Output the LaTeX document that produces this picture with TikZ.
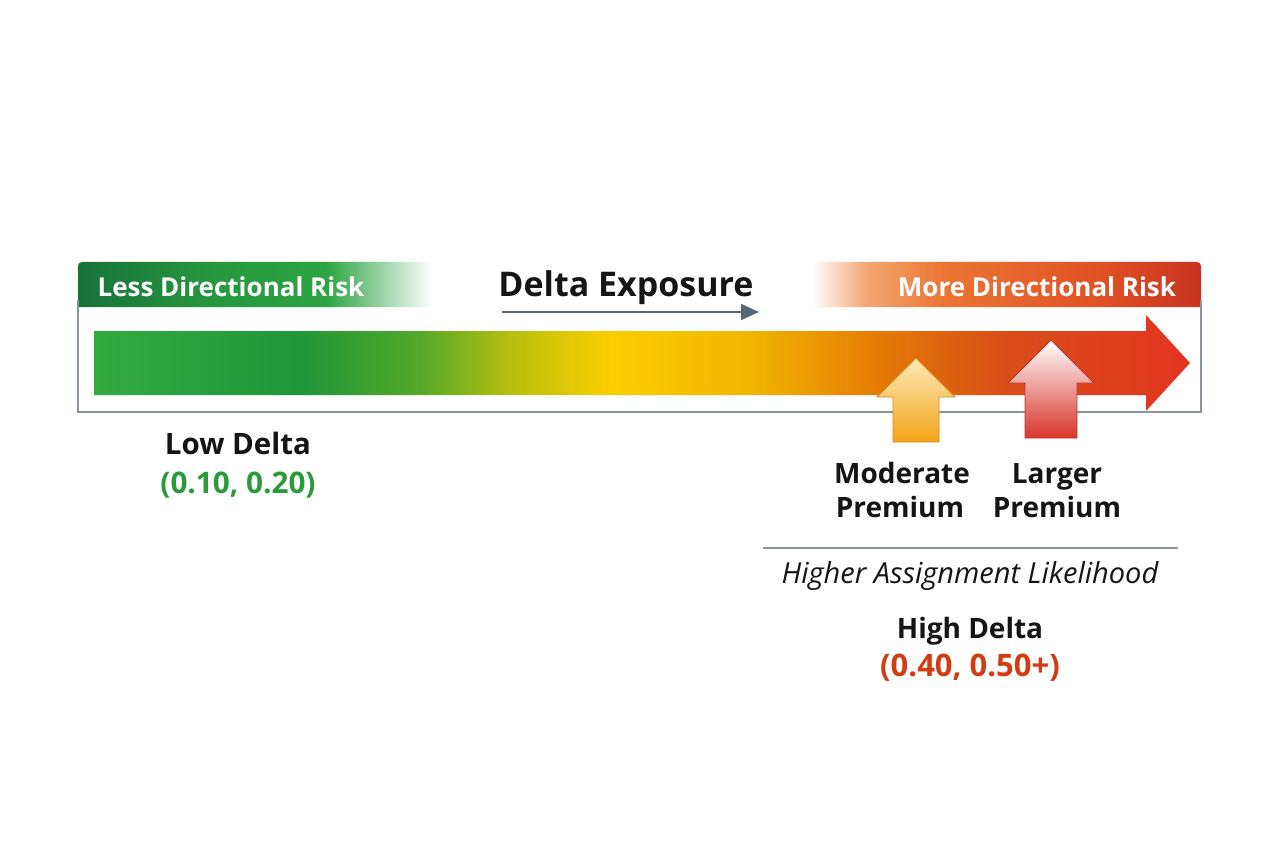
\documentclass[tikz,border=0pt]{standalone}
\usepackage{fontspec}
\setmainfont{Open Sans}
\usetikzlibrary{arrows.meta}
\definecolor{txt}{HTML}{151515}
\definecolor{framegray}{HTML}{8C939B}
\definecolor{arrowgray}{HTML}{5A6672}
\definecolor{lowgreen}{HTML}{2A9A3A}
\definecolor{highred}{HTML}{D23C12}
\definecolor{modtop}{HTML}{FCEAB8}
\definecolor{modbot}{HTML}{F3A418}
\definecolor{modedge}{HTML}{D9891A}
\definecolor{lartop}{HTML}{FFFFFF}
\definecolor{larbot}{HTML}{D8352A}
\definecolor{laredge}{HTML}{B8382E}
\pgfdeclarehorizontalshading{barshade}{100bp}{%
  rgb(0bp)=(0.20,0.67,0.25);
  rgb(25bp)=(0.20,0.67,0.25);
  rgb(34.4bp)=(0.12,0.59,0.22);
  rgb(39.9bp)=(0.33,0.66,0.16);
  rgb(44bp)=(0.72,0.75,0.06);
  rgb(48.5bp)=(0.98,0.81,0.0);
  rgb(54.9bp)=(0.95,0.71,0.0);
  rgb(60.9bp)=(0.89,0.48,0.02);
  rgb(66.3bp)=(0.85,0.31,0.09);
  rgb(75bp)=(0.89,0.20,0.13);
  rgb(100bp)=(0.89,0.20,0.13)}
\pgfdeclarehorizontalshading{lefthead}{100bp}{%
  rgb(0bp)=(0.09,0.45,0.22);
  rgb(25bp)=(0.09,0.45,0.22);
  rgb(45bp)=(0.15,0.60,0.25);
  rgb(60bp)=(0.17,0.64,0.26);
  rgb(75bp)=(1,1,1);
  rgb(100bp)=(1,1,1)}
\pgfdeclarehorizontalshading{righthead}{100bp}{%
  rgb(0bp)=(1,1,1);
  rgb(25bp)=(1,1,1);
  rgb(32bp)=(0.95,0.65,0.45);
  rgb(42bp)=(0.92,0.46,0.20);
  rgb(62bp)=(0.88,0.32,0.14);
  rgb(75bp)=(0.78,0.20,0.13);
  rgb(100bp)=(0.78,0.20,0.13)}
\tikzset{
  basetext/.style={anchor=base, inner sep=0pt},
  headtext/.style={basetext, text=white, font=\bfseries\fontsize{26}{30}\selectfont},
  titletext/.style={basetext, text=txt, font=\bfseries\fontsize{34}{38}\selectfont},
  labeltext/.style={basetext, text=txt, font=\bfseries\fontsize{28}{32}\selectfont},
  lowtext/.style={basetext, text=txt, font=\bfseries\fontsize{29.5}{33}\selectfont},
  lowval/.style={basetext, text=lowgreen, font=\bfseries\fontsize{29.7}{33}\selectfont},
  highval/.style={basetext, text=highred, font=\bfseries\fontsize{31}{34}\selectfont},
  italtext/.style={basetext, text=txt, font=\itshape\fontsize{29}{32}\selectfont},
  framepath/.style={draw=framegray, line width=1.6pt},
  exparrow/.style={draw=arrowgray, line width=1.6pt, -{Triangle[length=18pt,width=16pt]}},
  sepline/.style={draw=framegray, line width=1.2pt},
}
\begin{document}
\begin{tikzpicture}[x=1pt,y=-1pt]
\useasboundingbox (0,0) rectangle (1280,853);
\fill[white] (0,0) rectangle (1280,853);
% header bands
\shade[shading=lefthead] (78,307) [rounded corners=4pt] -- (78,262) -- (432,262) [sharp corners] -- (432,307) -- cycle;
\shade[shading=righthead] (812,307) -- (812,262) [rounded corners=4pt] -- (1201,262) [sharp corners] -- (1201,307) -- cycle;
% frame
\draw[framepath] (78,300) -- (78,412) -- (1201,412) -- (1201,300);
% main gradient bar with arrow head
\shade[shading=barshade] (94,331) -- (1146,331) -- (1146,315) -- (1190,363) -- (1146,411) -- (1146,395) -- (94,395) -- cycle;
% header texts
\node[headtext] (less) at (231,296) {Less Directional Risk};
\node[headtext] (more) at (1037,296) {More Directional Risk};
\node[titletext] (title) at (626,296) {Delta Exposure};
\coordinate (exps) at (502,312);
\coordinate (expe) at (759,312);
\draw[exparrow] (exps) -- (expe);
% up arrows
\shade[top color=modtop, bottom color=modbot, draw=modedge, line width=0.8pt]
  (893,442) -- (893,397) -- (877,397) -- (916,358) -- (955,397) -- (939,397) -- (939,442) -- cycle;
\shade[top color=lartop, bottom color=larbot, draw=laredge, line width=0.8pt]
  (1025,438) -- (1025,383) -- (1008,383) -- (1051,340) -- (1094,383) -- (1077,383) -- (1077,438) -- cycle;
% labels
\node[lowtext] (lowd) at (238,454) {Low Delta};
\node[lowval] (lowv) at (238,493) {(0.10, 0.20)};
\node[labeltext] (mod1) at (902,483) {Moderate};
\node[labeltext] (mod2) at (900,517) {Premium};
\node[labeltext] (lar1) at (1057,483) {Larger};
\node[labeltext] (lar2) at (1057,517) {Premium};
\coordinate (sepl) at (763,548);
\coordinate (sepr) at (1178,548);
\draw[sepline] (sepl) -- (sepr);
\node[italtext] (assign) at (970,583) {Higher Assignment Likelihood};
\node[labeltext] (highd) at (970,638) {High Delta};
\node[highval] (highv) at (970,676) {(0.40, 0.50+)};
\end{tikzpicture}
\end{document}
